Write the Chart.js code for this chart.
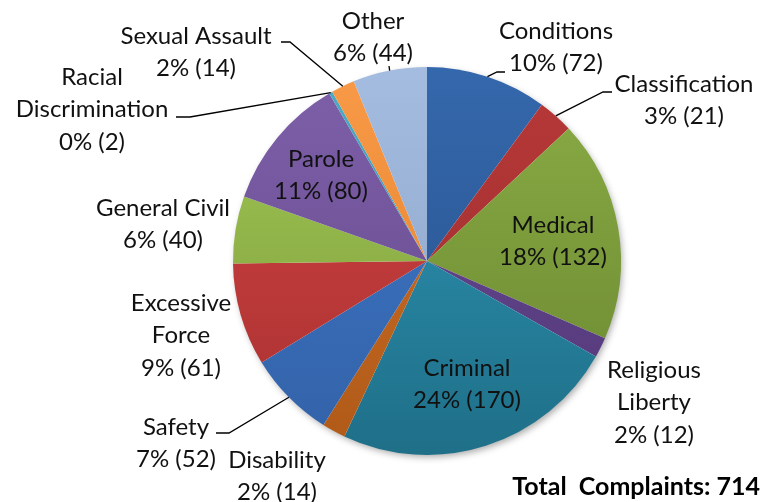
<!DOCTYPE html>
<html>
<head>
<meta charset="utf-8">
<script src="https://cdn.jsdelivr.net/npm/chart.js@4/dist/chart.umd.min.js"></script>
<style>
  html, body { margin: 0; padding: 0; background: #fff; }
  #wrap { width: 764px; height: 502px; position: relative; }
</style>
</head>
<body>
<div id="wrap"><canvas id="pieChart"></canvas></div>
<script>
const categories = ["Conditions", "Classification", "Medical", "Religious Liberty", "Criminal",
  "Disability", "Safety", "Excessive Force", "General Civil", "Parole",
  "Racial Discrimination", "Sexual Assault", "Other"];
const complaints = [72, 21, 132, 12, 170, 14, 52, 61, 40, 80, 2, 14, 44];
const percents = ["10%", "3%", "18%", "2%", "24%", "2%", "7%", "9%", "6%", "11%", "0%", "2%", "6%"];
const totalText = "Total  Complaints: 714";

// top / bottom colours of each slice gradient
const topColors = ["#3468ac", "#b83838", "#8aad45", "#6a4a95", "#2e98b8", "#d0702a", "#4078c8",
  "#d44444", "#a2c856", "#7e60aa", "#4bacc6", "#f99a48", "#a4bce0"];
const bottomColors = ["#28508a", "#9a2e2e", "#6a8630", "#523878", "#1f6f88", "#b05a18", "#3262a8",
  "#a83030", "#7c9b3a", "#634888", "#3a90a8", "#e07f2a", "#8aa2c6"];

// label layout: name lines, centre x, first line y, optional leader (elbow, end)
const labelLayout = [
  { lines: ["Conditions"], x: 556, y: 31, elbow: [497, 72], end: [505, 72] },
  { lines: ["Classification"], x: 684, y: 84, elbow: [603, 92], end: [612, 92] },
  { lines: ["Medical"], x: 553, y: 225 },
  { lines: ["Religious", "Liberty"], x: 654, y: 370 },
  { lines: ["Criminal"], x: 467, y: 368 },
  { lines: ["Disability"], x: 277, y: 460 },
  { lines: ["Safety"], x: 176, y: 427, elbow: [229, 433], end: [216, 433] },
  { lines: ["Excessive", "Force"], x: 181, y: 303 },
  { lines: ["General Civil"], x: 163, y: 208 },
  { lines: ["Parole"], x: 321, y: 159 },
  { lines: ["Racial", "Discrimination"], x: 92, y: 77, elbow: [190, 117], end: [176, 117] },
  { lines: ["Sexual Assault"], x: 196, y: 36, elbow: [290, 42], end: [281, 42] },
  { lines: ["Other"], x: 373, y: 21, elbow: [389, 66] }
];

const LABEL_FONT = "24px Lato, 'Open Sans', sans-serif";
const LINE_GAP = 32.5;

const gradCache = {};
function sliceGradient(context) {
  const chart = context.chart;
  const area = chart.chartArea;
  const i = context.dataIndex;
  if (!area) return topColors[i];
  const key = i + ":" + area.top + ":" + area.bottom;
  if (!gradCache[key]) {
    const g = chart.ctx.createLinearGradient(0, area.top, 0, area.bottom);
    g.addColorStop(0, topColors[i]);
    g.addColorStop(1, bottomColors[i]);
    gradCache[key] = g;
  }
  return gradCache[key];
}

const shadowPlugin = {
  id: "pieShadow",
  beforeDatasetsDraw(chart) {
    const arc = chart.getDatasetMeta(0).data[0];
    if (!arc) return;
    const ctx = chart.ctx;
    ctx.save();
    ctx.shadowColor = "rgba(0,0,0,0.35)";
    ctx.shadowBlur = 7;
    ctx.shadowOffsetX = 2;
    ctx.shadowOffsetY = 3;
    ctx.fillStyle = "#ffffff";
    ctx.beginPath();
    ctx.arc(arc.x, arc.y, arc.outerRadius - 1, 0, Math.PI * 2);
    ctx.fill();
    ctx.restore();
  }
};

const labelPlugin = {
  id: "sliceLabels",
  afterDatasetsDraw(chart) {
    const ctx = chart.ctx;
    const meta = chart.getDatasetMeta(0);
    ctx.save();
    ctx.font = LABEL_FONT;
    ctx.fillStyle = "#111";
    ctx.textAlign = "center";
    ctx.textBaseline = "middle";
    ctx.strokeStyle = "#000";
    ctx.lineWidth = 1.3;
    meta.data.forEach((arc, i) => {
      const lay = labelLayout[i];
      const lines = lay.lines.concat([percents[i] + " (" + complaints[i] + ")"]);
      lines.forEach((t, k) => ctx.fillText(t, lay.x, lay.y + k * LINE_GAP));
      if (lay.elbow) {
        const mid = (arc.startAngle + arc.endAngle) / 2;
        const sx = arc.x + Math.cos(mid) * arc.outerRadius;
        const sy = arc.y + Math.sin(mid) * arc.outerRadius;
        ctx.beginPath();
        ctx.moveTo(sx, sy);
        ctx.lineTo(lay.elbow[0], lay.elbow[1]);
        if (lay.end) ctx.lineTo(lay.end[0], lay.end[1]);
        ctx.stroke();
      }
    });
    ctx.font = "bold 25px Lato, 'Open Sans', sans-serif";
    ctx.textAlign = "right";
    ctx.fillStyle = "#000";
    ctx.fillText(totalText, 760, 487);
    ctx.restore();
  }
};

new Chart(document.getElementById("pieChart"), {
  type: "pie",
  data: {
    labels: categories,
    datasets: [{
      data: complaints,
      backgroundColor: sliceGradient,
      borderWidth: 0
    }]
  },
  options: {
    responsive: true,
    maintainAspectRatio: false,
    animation: false,
    events: [],
    layout: { padding: { top: 67, bottom: 47, left: 233, right: 143 } },
    plugins: {
      legend: { display: false },
      tooltip: { enabled: false }
    }
  },
  plugins: [shadowPlugin, labelPlugin]
});
</script>
</body>
</html>
